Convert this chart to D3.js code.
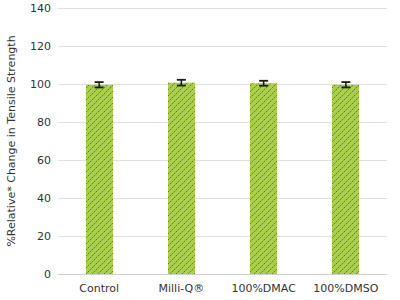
<!DOCTYPE html>
<html>
<head>
<meta charset="utf-8">
<script src="https://cdn.jsdelivr.net/npm/d3@7"></script>
<style>
  body { margin: 0; background: #fff; }
  svg { font-family: "DejaVu Sans", Verdana, sans-serif; }
</style>
</head>
<body>
<div id="chart"></div>
<script>
// data
var categories = ["Control", "Milli-Q\u00ae", "100%DMAC", "100%DMSO"];
var values = [99.6, 100.7, 100.4, 99.6];
var errors = [1.4, 1.5, 1.3, 1.4];
var yTicks = [0, 20, 40, 60, 80, 100, 120, 140];

var margin = {top: 8, right: 13, bottom: 26, left: 58},
    width = 400 - margin.left - margin.right,
    height = 300 - margin.top - margin.bottom;

var svg = d3.select("#chart").append("svg")
    .attr("width", 400)
    .attr("height", 300);

// hatched fill: dotted purple diagonals on green
var pat = svg.append("defs").append("pattern")
    .attr("id", "hatch")
    .attr("patternUnits", "userSpaceOnUse")
    .attr("width", 6)
    .attr("height", 6);
pat.append("rect").attr("width", 6).attr("height", 6).attr("fill", "#a8d04e");
[[0, 5, "#6e62a8"], [2, 3, "#6e62a8"], [4, 1, "#6e62a8"],
 [1, 4, "#8e98a0"], [3, 2, "#8e98a0"], [5, 0, "#8e98a0"]].forEach(function(p) {
  pat.append("rect")
    .attr("x", p[0]).attr("y", p[1])
    .attr("width", 1).attr("height", 1)
    .attr("fill", p[2]);
});

var g = svg.append("g")
    .attr("transform", "translate(" + margin.left + "," + margin.top + ")");

var x = d3.scaleBand()
    .domain(categories)
    .range([0, width])
    .paddingInner(0.67)
    .paddingOuter(0.335);

var y = d3.scaleLinear()
    .domain([0, 140])
    .range([height, 0]);

// gridlines
g.selectAll(".grid")
  .data(yTicks)
  .enter().append("line")
    .attr("x1", 0)
    .attr("x2", width)
    .attr("y1", function(d) { return Math.round(y(d)) + 0.5; })
    .attr("y2", function(d) { return Math.round(y(d)) + 0.5; })
    .attr("stroke", function(d) { return d === 0 ? "#d0d0d0" : "#e0e0e0"; })
    .attr("stroke-width", 1);

// bars
g.selectAll(".bar")
  .data(values)
  .enter().append("rect")
    .attr("x", function(d, i) { return Math.round(x(categories[i])); })
    .attr("y", function(d) { return y(d); })
    .attr("width", Math.round(x.bandwidth()))
    .attr("height", function(d) { return height - y(d); })
    .attr("fill", "url(#hatch)");

// error bars
var eb = g.selectAll(".err")
  .data(values)
  .enter().append("g");
eb.append("line")
    .attr("x1", function(d, i) { return x(categories[i]) + x.bandwidth() / 2; })
    .attr("x2", function(d, i) { return x(categories[i]) + x.bandwidth() / 2; })
    .attr("y1", function(d, i) { return y(d + errors[i]); })
    .attr("y2", function(d, i) { return y(d - errors[i]); })
    .attr("stroke", "#1a1a1a").attr("stroke-width", 1.5);
[1, -1].forEach(function(s) {
  eb.append("line")
    .attr("x1", function(d, i) { return x(categories[i]) + x.bandwidth() / 2 - 4.5; })
    .attr("x2", function(d, i) { return x(categories[i]) + x.bandwidth() / 2 + 4.5; })
    .attr("y1", function(d, i) { return y(d + s * errors[i]); })
    .attr("y2", function(d, i) { return y(d + s * errors[i]); })
    .attr("stroke", "#1a1a1a").attr("stroke-width", 1.8);
});

// y axis
var yAxis = g.append("g")
    .call(d3.axisLeft(y).tickValues(yTicks).tickSize(0).tickPadding(7));
yAxis.select(".domain").remove();
yAxis.selectAll("text").attr("font-size", 11).attr("fill", "#333")
    .style("font-family", "DejaVu Sans, Verdana, sans-serif");

// x axis
var xAxis = g.append("g")
    .attr("transform", "translate(0," + height + ")")
    .call(d3.axisBottom(x).tickSize(0).tickPadding(10));
xAxis.select(".domain").remove();
xAxis.selectAll("text").attr("font-size", 11).attr("fill", "#333")
    .style("font-family", "DejaVu Sans, Verdana, sans-serif");

// y label
svg.append("text")
    .attr("transform", "translate(15," + (margin.top + height / 2) + ") rotate(-90)")
    .attr("text-anchor", "middle")
    .attr("font-size", 11)
    .attr("fill", "#333")
    .text("%Relative* Change in Tensile Strength");
</script>
</body>
</html>
